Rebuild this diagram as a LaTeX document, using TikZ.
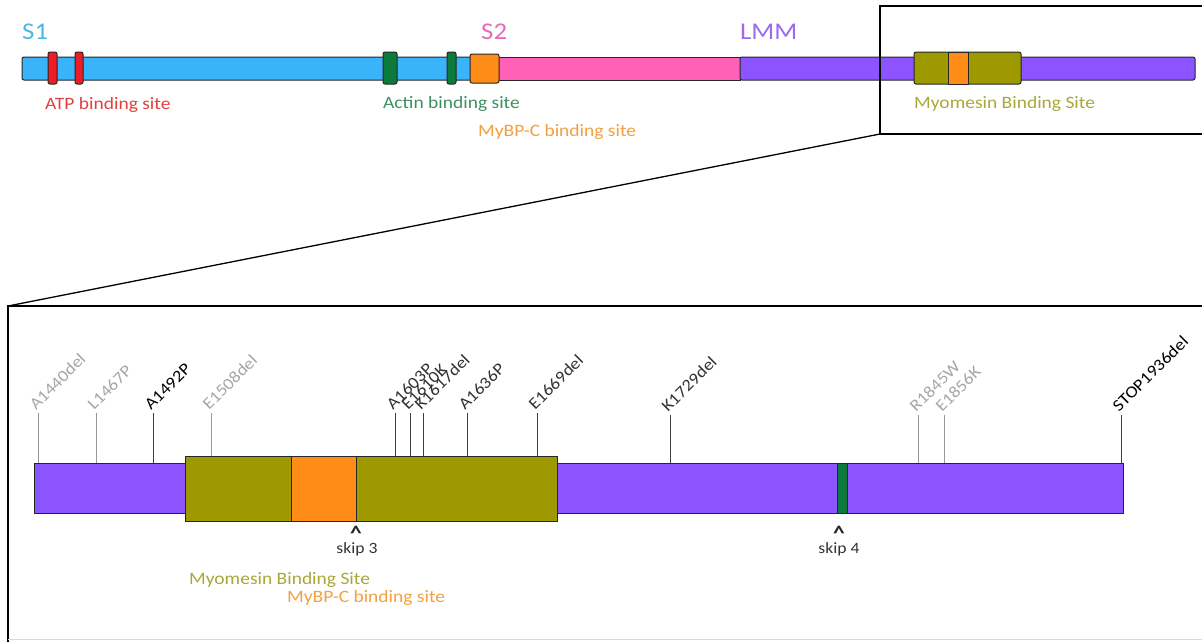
\documentclass[tikz,border=0pt]{standalone}
\usepackage{fontspec}
\setmainfont{Carlito}[FakeStretch=1.12]
\usetikzlibrary{positioning}

\definecolor{sblue}{HTML}{39B3FA}
\definecolor{sred}{HTML}{EE1C25}
\definecolor{sgreen}{HTML}{0C7A3A}
\definecolor{sorange}{HTML}{FF8C16}
\definecolor{spink}{HTML}{FF61B8}
\definecolor{spurple}{HTML}{8C54FF}
\definecolor{solive}{HTML}{9E9900}
\definecolor{tblue}{HTML}{4DB6E8}
\definecolor{tred}{HTML}{E0403F}
\definecolor{tgreen}{HTML}{3C9060}
\definecolor{torange}{HTML}{F4A040}
\definecolor{tpink}{HTML}{E86AB8}
\definecolor{tpurple}{HTML}{9A6BF0}
\definecolor{tolive}{HTML}{A8A83A}
\definecolor{mutgray}{HTML}{A6A6A6}
\definecolor{mutdark}{HTML}{333333}

\begin{document}
\begin{tikzpicture}[x=1pt,y=-1pt,
  seg/.style={draw=black!85,line width=1pt},
  frame/.style={draw=black,line width=1.3pt},
  big/.style={anchor=base west,inner sep=0pt,font=\fontsize{24}{28}\selectfont},
  lbl/.style={anchor=base west,inner sep=0pt,font=\fontsize{17.4}{20}\selectfont},
  mut/.style={anchor=base west,inner sep=0pt,rotate=45,font=\fontsize{16.5}{19}\selectfont},
  tick/.style={draw=black!40,line width=.9pt},
  dtick/.style={draw=black!75,line width=.9pt},
  skiplbl/.style={inner sep=0pt,text=mutdark,font=\fontsize{15.7}{18}\selectfont},
  caret/.style={inner sep=0pt,text=black!85,font=\fontsize{21}{22}\bfseries}]
  \clip (0,0) rectangle (1202,641);
  \fill[white] (0,0) rectangle (1202,641);
  % full length myosin
  \path[seg,fill=sblue,rounded corners=2pt] (22,57) rectangle (480,80);
  \path[seg,fill=spink] (498,57) rectangle (740,80);
  \path[seg,fill=spurple,rounded corners=2pt] (740,57) rectangle (1195,80);
  \path[seg,fill=sred,rounded corners=2pt] (48,52) rectangle (57,84);
  \path[seg,fill=sred,rounded corners=2pt] (75,52) rectangle (83,84);
  \path[seg,fill=sgreen,rounded corners=2pt] (383,52) rectangle (397,84);
  \path[seg,fill=sgreen,rounded corners=2pt] (447,52) rectangle (456,84);
  \path[seg,fill=sorange,rounded corners=2pt] (470,54) rectangle (499,83);
  \path[seg,fill=solive,rounded corners=2pt] (914,52) rectangle (1021,84);
  \path[seg,fill=sorange] (948,52) rectangle (968,84);
  \node[big,text=tblue] (s1) at (22,39) {S1};
  \node[big,text=tpink] (s2) at (481,39) {S2};
  \node[big,text=tpurple] (lmm) at (740,39) {LMM};
  \node[lbl,text=tred] (atp) at (45,109) {ATP binding site};
  \node[lbl,text=tgreen] (actin) at (383,108) {Actin binding site};
  \node[lbl,text=torange] (mybpc) at (478,136) {MyBP-C binding site};
  \node[lbl,text=tolive] (myom) at (914,108) {Myomesin Binding Site};
  % zoom
  \coordinate (zc) at (880,134);
  \coordinate (lc) at (8,306);
  \draw[frame] (1215,6) -| (zc) -- (1215,134);
  \draw[frame] (zc) -- (lc);
  \draw[frame] (1215,306) -- (lc) -- (8,650);
  \draw[black!15,line width=1pt] (8,639) -- (1202,639);
  % LMM detail
  \path[seg,fill=spurple] (34,463) rectangle (1123,513);
  \path[seg,fill=solive] (185,456) rectangle (557,521);
  \path[seg,fill=sorange] (291,456) rectangle (356,521);
  \path[seg,fill=sgreen] (837,463) rectangle (847,513);
  \coordinate (bartop) at (0,463);
  \coordinate (myotop) at (0,456);
  % mutations
  \coordinate (t1) at (38,413);
  \coordinate (t2) at (96,413);
  \coordinate (t3) at (153,413);
  \coordinate (t4) at (211,413);
  \coordinate (t5) at (395,413);
  \coordinate (t6) at (410,413);
  \coordinate (t7) at (423,413);
  \coordinate (t8) at (467,413);
  \coordinate (t9) at (537,413);
  \coordinate (t10) at (670,415);
  \coordinate (t11) at (918,415);
  \coordinate (t12) at (944,415);
  \coordinate (t13) at (1121,415);
  \draw[tick] (t1) -- (t1 |- bartop);
  \draw[tick] (t2) -- (t2 |- bartop);
  \draw[dtick] (t3) -- (t3 |- bartop);
  \draw[tick] (t4) -- (t4 |- myotop);
  \draw[dtick] (t5) -- (t5 |- myotop);
  \draw[dtick] (t6) -- (t6 |- myotop);
  \draw[dtick] (t7) -- (t7 |- myotop);
  \draw[dtick] (t8) -- (t8 |- myotop);
  \draw[dtick] (t9) -- (t9 |- myotop);
  \draw[dtick] (t10) -- (t10 |- bartop);
  \draw[tick] (t11) -- (t11 |- bartop);
  \draw[tick] (t12) -- (t12 |- bartop);
  \draw[dtick] (t13) -- (t13 |- bartop);
  \node[mut,text=mutgray] (a1440) at ([xshift=-2pt,yshift=2pt]t1) {A1440del};
  \node[mut,text=mutgray] (l1467) at ([xshift=-2pt,yshift=2pt]t2) {L1467P};
  \node[mut,text=black] (a1492) at ([xshift=-2pt,yshift=2pt]t3) {A1492P};
  \node[mut,text=mutgray] (e1508) at ([xshift=-2pt,yshift=2pt]t4) {E1508del};
  \node[mut,text=mutdark] (a1603) at ([xshift=-2pt,yshift=2pt]t5) {A1603P};
  \node[mut,text=mutdark] (e1610) at ([xshift=-2pt,yshift=2pt]t6) {E1610K};
  \node[mut,text=mutdark] (k1617) at ([xshift=-2pt,yshift=2pt]t7) {K1617del};
  \node[mut,text=mutdark] (a1636) at ([xshift=-2pt,yshift=2pt]t8) {A1636P};
  \node[mut,text=mutdark] (e1669) at ([xshift=-2pt,yshift=2pt]t9) {E1669del};
  \node[mut,text=mutdark] (k1729) at ([xshift=-2pt,yshift=2pt]t10) {K1729del};
  \node[mut,text=mutgray] (r1845) at ([xshift=-2pt,yshift=2pt]t11) {R1845W};
  \node[mut,text=mutgray] (e1856) at ([xshift=-2pt,yshift=2pt]t12) {E1856K};
  \node[mut,text=black] (stop1936) at ([xshift=-2pt,yshift=2pt]t13) {STOP1936del};
  % exon skips
  \node[caret,anchor=north] (c3) at (356,526) {\textasciicircum};
  \node[skiplbl,anchor=base] (skip3) at (357,553) {skip 3};
  \node[caret,anchor=north] (c4) at (839,526) {\textasciicircum};
  \node[skiplbl,anchor=base] (skip4) at (839,553) {skip 4};
  \node[lbl,text=tolive] (myom2) at (189,584) {Myomesin Binding Site};
  \node[lbl,text=torange] (mybpc2) at (287,602) {MyBP-C binding site};
\end{tikzpicture}
\end{document}
